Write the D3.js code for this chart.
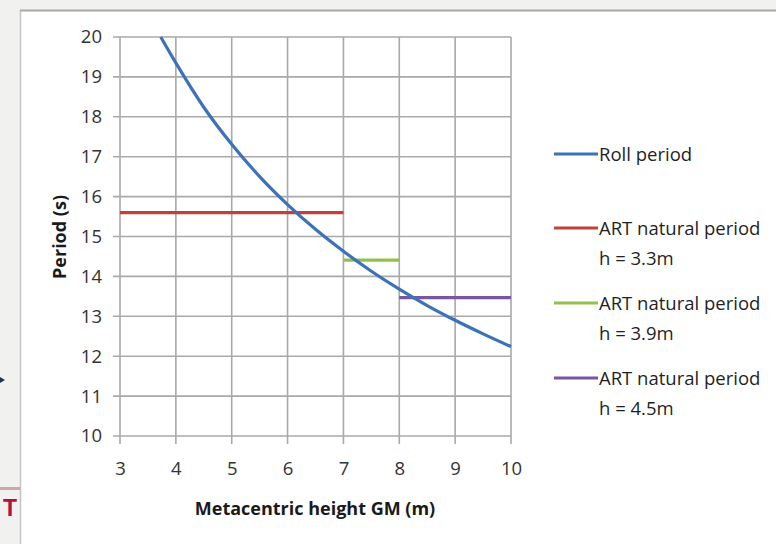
<!DOCTYPE html>
<html>
<head>
<meta charset="utf-8">
<script src="https://cdn.jsdelivr.net/npm/d3@7"></script>
<style>
  html, body { margin: 0; padding: 0; background: #f1f1f0; }
  svg { display: block; }
</style>
</head>
<body>
<svg id="chart" width="776" height="544"></svg>
<script>
// Roll period of the ship against metacentric height
const gmValues = [3.73, 4, 4.5, 5, 5.5, 6, 6.5, 7, 7.5, 8, 8.5, 9, 9.5, 10];
const rollPeriod = [20.0, 19.35, 18.24, 17.31, 16.5, 15.8, 15.18, 14.63, 14.13, 13.68, 13.27, 12.9, 12.56, 12.24];

// Anti-roll tank natural periods, each valid over a GM range
const artLabels = ["h = 3.3m", "h = 3.9m", "h = 4.5m"];
const artGmFrom = [3, 7, 8];
const artGmTo = [7, 8, 10];
const artPeriod = [15.6, 14.41, 13.47];

const xTicks = [3, 4, 5, 6, 7, 8, 9, 10];
const yTicks = [10, 11, 12, 13, 14, 15, 16, 17, 18, 19, 20];

const rollColor = "#3d72b8";
const artColors = ["#c0403c", "#94bf4c", "#7b55a0"];

const font = "'Open Sans', Lato, sans-serif";
const fontSize = 18.5;
const svg = d3.select("#chart");

// page frame around the chart
svg.append("rect").attr("x", 0).attr("y", 0).attr("width", 776).attr("height", 544).attr("fill", "#f1f1f0");
svg.append("rect").attr("x", 21).attr("y", 11).attr("width", 755).attr("height", 533).attr("fill", "#ffffff");
svg.append("line").attr("x1", 20.5).attr("x2", 20.5).attr("y1", 10).attr("y2", 544)
  .attr("stroke", "#c4c4c4").attr("stroke-width", 1.5);
svg.append("line").attr("x1", 20).attr("x2", 776).attr("y1", 10.5).attr("y2", 10.5)
  .attr("stroke", "#a9a9a9").attr("stroke-width", 2);
svg.append("path").attr("d", "M0,377 L5,380 L0,383 Z").attr("fill", "#1f3550");
svg.append("line").attr("x1", 0).attr("x2", 20).attr("y1", 488.5).attr("y2", 488.5)
  .attr("stroke", "#d4a3a8").attr("stroke-width", 3);
svg.append("text").attr("x", 3).attr("y", 516).text("T")
  .attr("font-family", "'Liberation Sans', Arial, sans-serif").attr("font-weight", "bold")
  .attr("font-size", 23).attr("fill", "#b3123f");

const x = d3.scaleLinear().domain([3, 10]).range([120, 511]);
const y = d3.scaleLinear().domain([10, 20]).range([436, 37]);

const gridColor = "#a9a9a9";

// gridlines
const g = svg.append("g");
g.selectAll(".vg").data(xTicks).join("line")
  .attr("x1", d => x(d)).attr("x2", d => x(d))
  .attr("y1", y(20)).attr("y2", y(10) + 8)
  .attr("stroke", gridColor).attr("stroke-width", 1.6);
g.selectAll(".hg").data(yTicks).join("line")
  .attr("x1", x(3) - 7).attr("x2", x(10))
  .attr("y1", d => y(d)).attr("y2", d => y(d))
  .attr("stroke", gridColor).attr("stroke-width", 1.6);

// tick labels via d3 axes (axis lines removed, grid drawn separately)
const yAxis = svg.append("g").attr("transform", `translate(${x(3)},0)`)
  .call(d3.axisLeft(y).tickValues(yTicks).tickFormat(d3.format("d")).tickSize(0).tickPadding(18));
const xAxis = svg.append("g").attr("transform", `translate(0,${y(10)})`)
  .call(d3.axisBottom(x).tickValues(xTicks).tickFormat(d3.format("d")).tickSize(0).tickPadding(26));
[yAxis, xAxis].forEach(a => {
  a.attr("font-family", font).attr("font-size", fontSize);
  a.select(".domain").remove();
  a.selectAll("text").attr("fill", "#333333");
});

// axis titles
svg.append("text").attr("x", 315).attr("y", 515).attr("text-anchor", "middle")
  .attr("font-family", font).attr("font-weight", "bold").attr("font-size", 18)
  .attr("fill", "#1a1a1a").text("Metacentric height GM (m)");
svg.append("text").attr("transform", "translate(66,237) rotate(-90)").attr("text-anchor", "middle")
  .attr("font-family", font).attr("font-weight", "bold").attr("font-size", 18)
  .attr("fill", "#1a1a1a").text("Period (s)");

// ART horizontal segments
svg.selectAll(".art").data(artPeriod).join("line")
  .attr("x1", (d, i) => x(artGmFrom[i])).attr("x2", (d, i) => x(artGmTo[i]))
  .attr("y1", d => y(d)).attr("y2", d => y(d))
  .attr("stroke", (d, i) => artColors[i]).attr("stroke-width", 3.2);

// roll period curve
const line = d3.line().curve(d3.curveMonotoneX).x(d => x(d[0])).y(d => y(d[1]));
svg.append("path").datum(gmValues.map((v, i) => [v, rollPeriod[i]]))
  .attr("d", line).attr("fill", "none").attr("stroke", rollColor).attr("stroke-width", 3.2);

// legend
const legend = [
  { color: rollColor, lines: ["Roll period"], cy: 154 },
  { color: artColors[0], lines: ["ART natural period", artLabels[0]], cy: 228 },
  { color: artColors[1], lines: ["ART natural period", artLabels[1]], cy: 303 },
  { color: artColors[2], lines: ["ART natural period", artLabels[2]], cy: 378 }
];
const lg = svg.append("g").selectAll("g").data(legend).join("g");
lg.append("line").attr("x1", 554).attr("x2", 598)
  .attr("y1", d => d.cy).attr("y2", d => d.cy)
  .attr("stroke", d => d.color).attr("stroke-width", 3.2);
lg.each(function(d) {
  d3.select(this).selectAll("text").data(d.lines).join("text")
    .attr("x", 599).attr("y", (t, i) => d.cy + 6.5 + i * 30)
    .attr("font-family", font).attr("font-size", fontSize).attr("fill", "#1f1f1f")
    .text(t => t);
});
</script>
</body>
</html>
